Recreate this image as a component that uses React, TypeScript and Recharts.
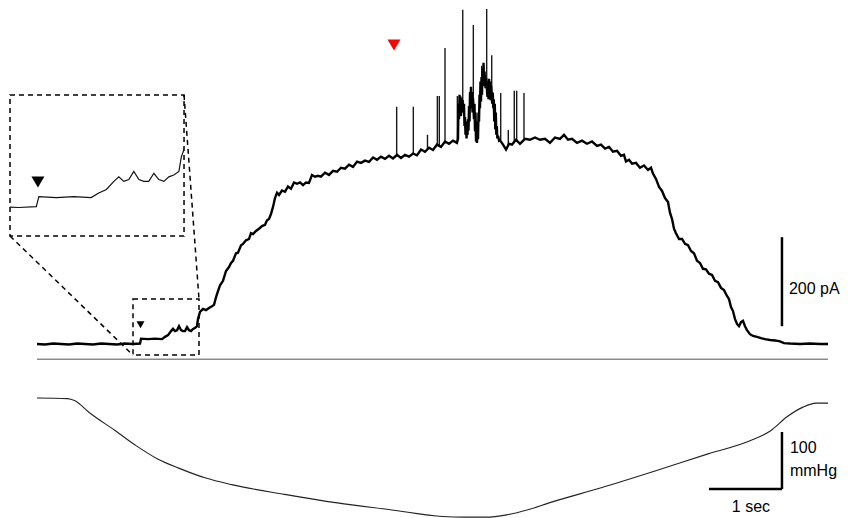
import React from 'react';
import { LineChart, Line, XAxis, YAxis, ReferenceLine, ReferenceArea, ReferenceDot } from 'recharts';

// whole-cell current, time in s, current in pA
const currentTime = [
  0, 0.11, 0.219, 0.329, 0.438, 0.548, 0.658, 0.767, 0.877, 0.986, 1.096, 1.205, 1.315, 1.411,
  1.425, 1.521, 1.616, 1.712, 1.753, 1.795, 1.836, 1.863, 1.89, 1.918, 1.945, 1.973, 2.0, 2.027,
  2.055, 2.082, 2.11, 2.137, 2.164, 2.192, 2.205, 2.233, 2.274, 2.315, 2.356, 2.397, 2.425, 2.452,
  2.479, 2.507, 2.548, 2.589, 2.63, 2.658, 2.685, 2.726, 2.753, 2.795, 2.822, 2.863, 2.904, 2.932,
  2.959, 3.0, 3.041, 3.082, 3.123, 3.151, 3.178, 3.205, 3.233, 3.26, 3.288, 3.315, 3.356, 3.397,
  3.438, 3.479, 3.521, 3.562, 3.603, 3.644, 3.685, 3.726, 3.767, 3.808, 3.849, 3.89, 3.945, 4.0,
  4.055, 4.11, 4.164, 4.219, 4.274, 4.329, 4.384, 4.438, 4.493, 4.548, 4.603, 4.658, 4.712, 4.767,
  4.822, 4.877, 4.932, 4.986, 5.041, 5.096, 5.151, 5.205, 5.26, 5.315, 5.37, 5.425, 5.479, 5.534,
  5.589, 5.644, 5.699, 5.753,
  // burst of openings
  5.767, 5.774, 5.781, 5.788, 5.795, 5.801, 5.808, 5.815, 5.822, 5.829, 5.843, 5.849, 5.856, 5.863,
  5.87, 5.877, 5.884, 5.89, 5.897, 5.904, 5.911, 5.918, 5.925, 5.932, 5.939, 5.945, 5.952, 5.959,
  5.966, 5.973, 5.986, 5.993, 6.0, 6.007, 6.014, 6.021, 6.027, 6.034, 6.041, 6.048, 6.055, 6.062,
  6.068, 6.075, 6.082, 6.089, 6.096, 6.103, 6.11, 6.117, 6.123, 6.13, 6.144, 6.151, 6.171, 6.178,
  6.185, 6.192, 6.199, 6.206, 6.213, 6.22, 6.236, 6.243, 6.25, 6.257, 6.264, 6.271, 6.278, 6.285,
  6.292, 6.299, 6.306, 6.315, 6.33, 6.342,
  6.384, 6.425, 6.466, 6.507, 6.562, 6.616, 6.685, 6.753, 6.822, 6.89, 6.959, 7.027, 7.096, 7.164,
  7.219, 7.274, 7.329, 7.397, 7.466, 7.534, 7.603, 7.671, 7.726, 7.781, 7.836, 7.89, 7.945, 8.0,
  8.041, 8.068, 8.11, 8.151, 8.205, 8.26, 8.315, 8.37, 8.411, 8.438, 8.479, 8.521, 8.562, 8.603,
  8.644, 8.671, 8.699, 8.726, 8.753, 8.795, 8.836, 8.877, 8.918, 8.959, 9.0, 9.041, 9.082, 9.123,
  9.164, 9.205, 9.247, 9.288, 9.329, 9.37, 9.411, 9.452, 9.479, 9.507, 9.534, 9.562, 9.589, 9.616,
  9.644, 9.671, 9.699, 9.726, 9.767, 9.808, 9.863, 9.918, 9.973, 10.041, 10.11, 10.178, 10.233,
  10.315, 10.452, 10.589, 10.726, 10.836,
];
const currentPA = [
  0, -1, 1, 0, -1, 1, 0, -1, 1, 0, -1, 1, 0, 1,
  12, 11, 12, 11, 16, 20, 29, 34, 29, 31, 40, 31, 29, 29,
  38, 31, 29, 34, 36, 40, 56, 72, 79, 76, 81, 85, 88, 105,
  119, 132, 142, 164, 173, 182, 187, 204, 205, 222, 225, 233, 236, 249,
  247, 254, 259, 265, 268, 278, 281, 292, 308, 328, 340, 335, 345, 342,
  354, 349, 363, 360, 363, 357, 363, 362, 380, 376, 378, 376, 385, 380,
  389, 387, 396, 394, 403, 398, 410, 407, 412, 409, 419, 414, 421, 416,
  423, 417, 425, 418, 425, 421, 428, 424, 437, 432, 441, 436, 448, 443,
  455, 450, 457, 452,
  461, 540, 505, 560, 530, 556, 512, 552, 530, 548, 520, 540, 490, 510,
  470, 500, 462, 492, 470, 505, 480, 535, 500, 566, 540, 578, 530, 566,
  520, 552, 505, 540, 478, 520, 455, 500, 452, 490, 460, 520, 500, 560,
  530, 590, 545, 600, 560, 620, 580, 632, 590, 612, 575, 598, 555, 590,
  550, 596, 560, 590, 548, 580, 540, 565, 530, 550, 500, 540, 482, 520,
  470, 490, 462, 468, 457, 458,
  448, 437, 450, 448, 459, 450, 461, 459, 464, 459, 461, 452, 464, 461,
  470, 459, 461, 452, 457, 450, 455, 445, 448, 439, 443, 432, 434, 423,
  425, 410, 414, 405, 407, 396, 401, 391, 396, 383, 371, 353, 344, 328,
  319, 295, 281, 259, 249, 236, 236, 225, 222, 209, 204, 187, 182, 169,
  168, 158, 155, 142, 139, 126, 121, 108, 101, 83, 74, 56, 45, 40,
  49, 52, 40, 31, 22, 18, 16, 13, 11, 9, 8, 6, 2,
  1, 0, 1, 0, 0,
];

// brief single-channel openings on top of the plateau
const spikeTime = [4.927, 5.155, 5.349, 5.484, 5.511, 5.589, 5.758, 5.832, 5.977, 6.092, 6.16, 6.229, 6.352, 6.456, 6.538, 6.571, 6.671];
const spikeBase = [422, 425, 438, 445, 445, 452, 456, 540, 540, 560, 575, 548, 458, 445, 452, 454, 458];
const spikePeak = [533, 533, 470, 557, 557, 665, 557, 751, 717, 625, 753, 649, 564, 481, 569, 569, 564];

// pipette pressure, mmHg
const pressureTime = [0, 0.419, 0.521, 0.71, 1.068, 1.362, 1.652, 1.941, 2.301, 2.666, 3.392, 4.116, 4.841, 5.562, 5.849, 6.145, 6.436, 6.726, 7.014, 7.74, 8.466, 9.192, 9.767, 10.055, 10.274, 10.493, 10.671, 10.836];
const pressureMmHg = [0, -1, -5, -25, -57, -84, -107, -123, -140, -152, -169, -184, -196, -208, -209, -209, -205, -196, -184, -157, -128, -98, -75, -57, -33, -16, -9, -9];

const currentRows = currentTime.map((t, k) => ({ t, i: currentPA[k] }));
const spikeRows = spikeTime.flatMap((t, k) => [
  { t, s: spikeBase[k] },
  { t, s: spikePeak[k] },
  { t: t + 0.0005, s: null },
]);
const pressureRows = pressureTime.map((t, k) => ({ t, p: pressureMmHg[k] }));
const insetRows = currentRows.filter((r) => r.t > 1.2 && r.t < 2.3);

const FONT = '"Liberation Sans", Arial, sans-serif';

const triangle = (w: number, h: number, color: string) => (props: any) => {
  const { cx, cy } = props;
  return <polygon points={`${cx - w / 2},${cy - h / 2} ${cx + w / 2},${cy - h / 2} ${cx},${cy + h / 2}`} fill={color} />;
};

const barText = (lines: string[], dx: number, dy: number, anchor: string = 'start') => (props: any) => {
  const vb = props.viewBox || { x: 0, y: 0 };
  return (
    <text x={vb.x + dx} y={vb.y + dy} textAnchor={anchor} fontSize={16} fontFamily={FONT} fill="#000">
      {lines.map((s, k) => (
        <tspan key={k} x={vb.x + dx} dy={k ? 23 : 0}>{s}</tspan>
      ))}
    </text>
  );
};

const dashed = { stroke: '#000', strokeWidth: 1.5, strokeDasharray: '5 4' };

export default function App() {
  return (
    <div style={{ position: 'absolute', left: 0, top: 0, width: 850, height: 518, background: '#fff' }}>
      <LineChart width={850} height={518} margin={{ top: 0, right: 0, bottom: 0, left: 0 }}>
        <XAxis type="number" dataKey="t" domain={[-0.507, 11.137]} allowDataOverflow hide />
        <YAxis yAxisId="i" type="number" domain={[-391, 773]} allowDataOverflow hide />
        <YAxis yAxisId="p" type="number" domain={[-210.5, 698.2]} allowDataOverflow hide />

        <ReferenceLine yAxisId="i" segment={[{ x: 0, y: -34 }, { x: 10.836, y: -34 }]} stroke="#8a8a8a" strokeWidth={1.5} />

        <ReferenceArea yAxisId="i" x1={1.315} x2={2.219} y1={-25} y2={101} fill="none" {...dashed} />
        <ReferenceArea yAxisId="i" x1={-0.37} x2={2.014} y1={242.7} y2={559.6} fill="none" {...dashed} />
        <ReferenceLine yAxisId="i" segment={[{ x: -0.37, y: 242.7 }, { x: 1.315, y: -25 }]} {...dashed} />
        <ReferenceLine yAxisId="i" segment={[{ x: 2.014, y: 559.6 }, { x: 2.219, y: 101 }]} {...dashed} />

        <Line yAxisId="i" data={spikeRows} dataKey="s" stroke="#1a1a1a" strokeWidth={1.4} connectNulls={false} dot={false} activeDot={false} isAnimationActive={false} />
        <Line yAxisId="i" data={currentRows} dataKey="i" stroke="#000" strokeWidth={2.4} dot={false} activeDot={false} isAnimationActive={false} />
        <Line yAxisId="p" data={pressureRows} dataKey="p" stroke="#222" strokeWidth={1.1} type="monotone" dot={false} activeDot={false} isAnimationActive={false} />

        <ReferenceDot yAxisId="i" x={4.89} y={672} r={0} shape={triangle(13, 11, '#ff0000')} />
        <ReferenceDot yAxisId="i" x={1.418} y={43} r={0} shape={triangle(8, 7, '#000')} />

        <ReferenceLine yAxisId="i" segment={[{ x: 10.205, y: 40 }, { x: 10.205, y: 240 }]} stroke="#000" strokeWidth={2.5} label={barText(['200 pA'], 7, 57)} />
        <ReferenceLine yAxisId="p" segment={[{ x: 10.205, y: -59.6 }, { x: 10.205, y: -159.6 }]} stroke="#000" strokeWidth={2.5} label={barText(['100', 'mmHg'], 8, 21)} />
        <ReferenceLine yAxisId="p" segment={[{ x: 9.205, y: -159.6 }, { x: 10.205, y: -159.6 }]} stroke="#000" strokeWidth={2.5} label={barText(['1 sec'], 42, 23, 'middle')} />
      </LineChart>

      <div style={{ position: 'absolute', left: 10, top: 95 }}>
        <LineChart width={174} height={141} margin={{ top: 0, right: 0, bottom: 0, left: 0 }}>
          <XAxis type="number" dataKey="t" domain={[1.267, 2.22]} allowDataOverflow hide />
          <YAxis type="number" domain={[-31.7, 125]} allowDataOverflow hide />
          <Line data={insetRows} dataKey="i" stroke="#111" strokeWidth={1.2} dot={false} activeDot={false} isAnimationActive={false} />
          <ReferenceDot x={1.42} y={28.3} r={0} shape={triangle(13, 11, '#000')} />
        </LineChart>
      </div>
    </div>
  );
}
